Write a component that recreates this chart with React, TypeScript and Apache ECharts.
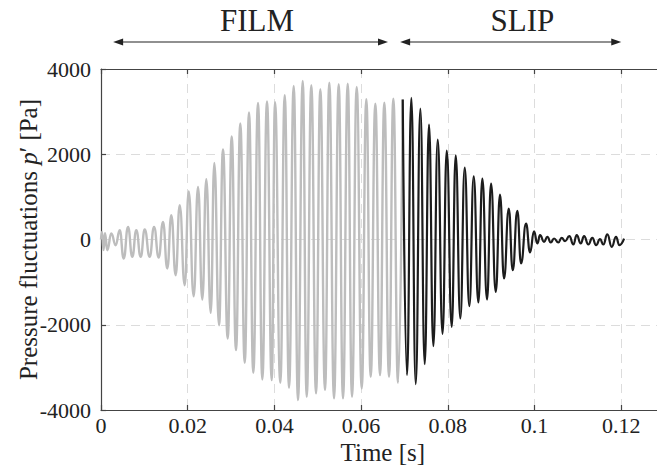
import React, { useEffect, useRef } from "react";
import * as echarts from "echarts";

// FILM regime (grey trace): times [s] and pressure fluctuations [Pa] at each turning point
const filmTime = [
  0, 0.00023, 0.00058, 0.00092, 0.00145, 0.00238, 0.00339, 0.00431, 0.00524, 0.00623,
  0.00722, 0.00814, 0.00916, 0.01008, 0.01123, 0.01223, 0.01331, 0.0143, 0.01529, 0.01622,
  0.01723, 0.01815, 0.01931, 0.02023, 0.02138, 0.02238, 0.02337, 0.02429, 0.02531, 0.02614,
  0.02722, 0.02814, 0.02923, 0.03015, 0.03114, 0.03213, 0.03315, 0.03414, 0.03513, 0.03622,
  0.03721, 0.03829, 0.03938, 0.04014, 0.04136, 0.04238, 0.04337, 0.04445, 0.04544, 0.04653,
  0.04745, 0.04851, 0.0496, 0.05059, 0.05167, 0.05266, 0.05375, 0.05483, 0.05582, 0.05691,
  0.0579, 0.05898, 0.06014, 0.0612, 0.06221, 0.06328, 0.06436, 0.06535, 0.06644, 0.06743,
  0.06851, 0.0696,
];
const filmPressure = [
  0, 180, -250, 150, -251, 140, -134, 218, -446, 296,
  -408, 218, -408, 234, -408, 296, -422, 413, -680, 570,
  -837, 804, -1072, 1125, -1330, 1234, -1407, 1414, -1721, 1797,
  -2010, 2110, -2322, 2415, -2596, 2720, -2894, 2978, -3128, 3203,
  -3283, 3236, -3299, 3220, -3362, 3383, -3479, 3602, -3768, 3719,
  -3690, 3618, -3611, 3524, -3533, 3680, -3728, 3641, -3728, 3657,
  -3690, 3578, -3494, 3290, -3221, 3188, -3182, 3212, -3221, 3306,
  -3362, 3282,
];

// SLIP regime (black trace)
const slipTime = [
  0.0696, 0.07059, 0.07158, 0.0726, 0.07366, 0.07467, 0.07566, 0.07666, 0.07767, 0.07878,
  0.07975, 0.0809, 0.08182, 0.08288, 0.0839, 0.08496, 0.08597, 0.08704, 0.08796, 0.08904,
  0.08997, 0.09105, 0.09204, 0.09296, 0.09405, 0.09497, 0.09603, 0.09689, 0.09804, 0.09896,
  0.09988, 0.10065, 0.10127, 0.10219, 0.10296, 0.10374, 0.1045, 0.10549, 0.10627, 0.10704,
  0.10803, 0.10895, 0.10973, 0.11066, 0.11142, 0.11241, 0.11333, 0.11419, 0.11511, 0.11587,
  0.11679, 0.11781, 0.1188, 0.11956, 0.12065,
];
const slipPressure = [
  3282, -3182, 3321, -3393, 3071, -2924, 2696, -2502, 2345, -2212,
  2086, -2049, 1977, -1853, 1688, -1564, 1484, -1477, 1430, -1407,
  1313, -1229, 1055, -915, 727, -720, 671, -563, 375, -300,
  190, -94, 101, -55, 61, -70, 23, -70, 38, -40,
  80, -117, 101, -94, 80, -117, 38, -133, 7, -117,
  120, -172, 61, -133, 20,
];

// Regime annotations above the plot
const regimeLabels = ["FILM", "SLIP"];
const regimeStart = [0.0028, 0.069];
const regimeEnd = [0.0662, 0.12];
const regimeLabelAt = [0.036, 0.0972];

const SERIF = "Liberation Serif";
const INK = "#222222";
const AXIS = "#444444";

export default function App() {
  const ref = useRef<HTMLDivElement>(null);

  useEffect(() => {
    const chart = echarts.init(ref.current!, null, { renderer: "svg" });
    const axisLine = { show: true, onZero: false, lineStyle: { color: AXIS, width: 1.2 } };
    const axisTick = { show: true, inside: true, length: 5, lineStyle: { color: AXIS, width: 1.2 } };
    const split = { show: true, lineStyle: { color: "#dcdcdc", width: 1, type: [9, 6] as any } };

    chart.setOption({
      animation: false,
      backgroundColor: "#ffffff",
      textStyle: { fontFamily: SERIF },
      grid: {
        left: 101,
        right: -7.6,
        top: 69,
        bottom: 62,
        containLabel: false,
        outerBoundsMode: "none",
      } as any,
      xAxis: [
        {
          type: "value",
          min: 0,
          max: 0.13,
          interval: 0.02,
          position: "bottom",
          name: "Time [s]",
          nameLocation: "middle",
          nameGap: 30,
          nameMoveOverlap: false,
          nameTextStyle: { fontFamily: SERIF, fontSize: 25, color: INK },
          axisLine,
          axisTick,
          axisLabel: {
            showMaxLabel: false,
            margin: 4,
            fontFamily: SERIF,
            fontSize: 22,
            color: INK,
            formatter: (v: number) => String(+v.toFixed(2)),
          },
          splitLine: split,
        } as any,
        {
          type: "value",
          min: 0,
          max: 0.13,
          interval: 0.02,
          position: "top",
          axisLine,
          axisTick,
          axisLabel: { show: false },
          splitLine: { show: false },
        },
      ],
      yAxis: {
        type: "value",
        min: -4000,
        max: 4000,
        interval: 2000,
        name: "{a|Pressure fluctuations }{i|p}{a|′ [Pa]}",
        nameLocation: "middle",
        nameRotate: 90,
        nameGap: 60,
        nameMoveOverlap: false,
        nameTextStyle: {
          fontFamily: SERIF,
          fontSize: 25,
          color: INK,
          rich: {
            a: { fontFamily: SERIF, fontSize: 25, color: INK },
            i: { fontFamily: SERIF, fontSize: 25, color: INK, fontStyle: "italic" },
          },
        },
        axisLine,
        axisTick,
        axisLabel: {
          margin: 10,
          fontFamily: SERIF,
          fontSize: 22,
          color: INK,
          formatter: (v: number) => String(v),
        },
        splitLine: split,
      } as any,
      series: [
        {
          name: "FILM",
          type: "line",
          data: filmTime.map((t, i) => [t, filmPressure[i]]),
          showSymbol: false,
          smooth: 0.5,
          smoothMonotone: "x",
          lineStyle: { color: "#bdbdbd", width: 2.4 },
          z: 2,
        },
        {
          name: "SLIP",
          type: "line",
          data: slipTime.map((t, i) => [t, slipPressure[i]]),
          showSymbol: false,
          smooth: 0.5,
          smoothMonotone: "x",
          lineStyle: { color: "#1c1c1c", width: 2.2 },
          z: 3,
        },
      ],
    });

    const px = (t: number) => chart.convertToPixel({ xAxisIndex: 0 }, t) as number;
    const arrowY = 42;
    const elements: any[] = [];
    regimeLabels.forEach((label, i) => {
      const x1 = px(regimeStart[i]);
      const x2 = px(regimeEnd[i]);
      elements.push({
        type: "line",
        shape: { x1: x1 + 4, y1: arrowY, x2: x2 - 4, y2: arrowY },
        style: { stroke: INK, lineWidth: 1.2 },
      });
      elements.push({
        type: "polygon",
        shape: { points: [[x1, arrowY], [x1 + 10, arrowY - 3.5], [x1 + 10, arrowY + 3.5]] },
        style: { fill: INK },
      });
      elements.push({
        type: "polygon",
        shape: { points: [[x2, arrowY], [x2 - 10, arrowY - 3.5], [x2 - 10, arrowY + 3.5]] },
        style: { fill: INK },
      });
      elements.push({
        type: "text",
        x: px(regimeLabelAt[i]),
        y: 20,
        style: {
          text: label,
          fontFamily: SERIF,
          fontSize: 31,
          fill: INK,
          align: "center",
          verticalAlign: "middle",
        },
      });
    });
    chart.setOption({ graphic: elements });

    return () => chart.dispose();
  }, []);

  return (
    <div
      ref={ref}
      style={{ width: 657, height: 472, position: "absolute", left: 0, top: 0, overflow: "hidden" }}
    />
  );
}
